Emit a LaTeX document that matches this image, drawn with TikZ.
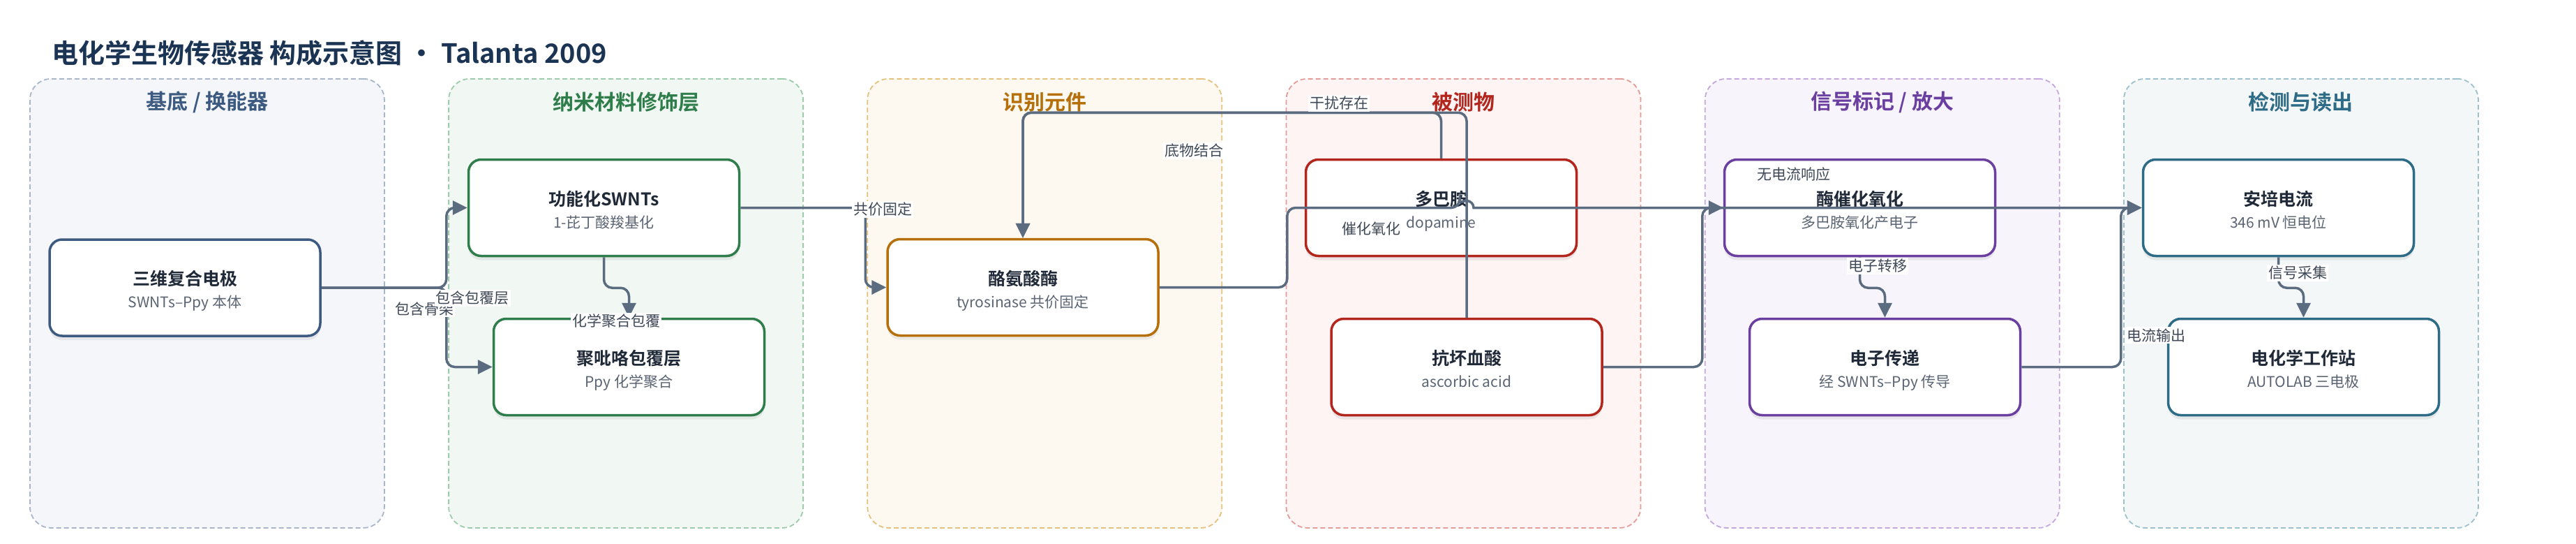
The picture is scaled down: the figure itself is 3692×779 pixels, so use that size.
\documentclass[tikz,border=0pt]{standalone}
\usepackage{fontspec}
\setmainfont{Noto Sans CJK SC}[BoldFont={Noto Sans CJK SC Bold}]
\usetikzlibrary{arrows.meta,shadows}
\definecolor{ink}{HTML}{1F2937}
\definecolor{subink}{HTML}{5B6472}
\definecolor{titleink}{HTML}{1B3453}
\definecolor{edgec}{HTML}{5B6B80}
\definecolor{lblink}{HTML}{3F4856}
\definecolor{fA}{HTML}{F4F6FA}\definecolor{bA}{HTML}{A9B6CA}\definecolor{tA}{HTML}{3D5A80}
\definecolor{fB}{HTML}{F1F8F3}\definecolor{bB}{HTML}{9ECBAB}\definecolor{tB}{HTML}{2E7D4A}
\definecolor{fC}{HTML}{FDF9F1}\definecolor{bC}{HTML}{E5C17E}\definecolor{tC}{HTML}{B5700C}
\definecolor{fD}{HTML}{FDF4F3}\definecolor{bD}{HTML}{E49C98}\definecolor{tD}{HTML}{B3261E}
\definecolor{fE}{HTML}{F7F4FB}\definecolor{bE}{HTML}{C4A8DD}\definecolor{tE}{HTML}{6B3FA0}
\definecolor{fF}{HTML}{F3F7F8}\definecolor{bF}{HTML}{9DC0CD}\definecolor{tF}{HTML}{2E6B86}
\tikzset{
  lane/.style={draw, dash pattern=on 7pt off 4pt, line width=1.8pt, rounded corners=30pt,
    minimum width=508pt, minimum height=643pt, inner sep=0pt, anchor=north west},
  lanetitle/.style={font=\fontsize{30}{36}\selectfont\bfseries, inner sep=0pt},
  nbox/.style={draw, fill=white, line width=3.5pt, rounded corners=18pt,
    minimum width=388pt, minimum height=138pt, inner sep=0pt,
    drop shadow={shadow xshift=0pt, shadow yshift=-6pt, opacity=0.13}},
  ntitle/.style={font=\fontsize{25}{30}\selectfont\bfseries, text=ink, anchor=base, inner sep=0pt},
  nsub/.style={font=\fontsize{21}{26}\selectfont, text=subink, anchor=base, inner sep=0pt},
  edge/.style={draw=edgec, line width=3.5pt, rounded corners=12pt, -{Triangle[length=21pt,width=20pt]}},
  elabel/.style={font=\fontsize{21}{26}\selectfont, text=lblink, fill=white, inner sep=2pt},
}
\newcommand\mklane[6]{%
  \node[lane, fill=#3, draw=#4] (#1) at (#2,112) {};
  \node[lanetitle, text=#5] (#1t) at ([yshift=-34pt]#1.north) {#6};
}
\newcommand\mknode[6]{%
  \node[nbox, draw=#4] (#1) at (#2,#3) {};
  \node[ntitle] (#1t) at ([yshift=3.5pt]#1.center) {#5};
  \node[nsub] (#1s) at ([yshift=-28.5pt]#1.center) {#6};
}
\begin{document}
\begin{tikzpicture}[x=1pt, y=-1pt]
\fill[white] (0,0) rectangle (3692,779);
\useasboundingbox (0,0) rectangle (3692,779);
\node[anchor=base west, inner sep=0pt, text=titleink, font=\fontsize{38}{45}\selectfont\bfseries] (title) at (74,90) {电化学生物传感器 构成示意图 · Talanta 2009};
% lanes
\mklane{L1}{42}{fA}{bA}{tA}{基底 / 换能器}
\mklane{L2}{642.2}{fB}{bB}{tB}{纳米材料修饰层}
\mklane{L3}{1242.4}{fC}{bC}{tC}{识别元件}
\mklane{L4}{1842.6}{fD}{bD}{tD}{被测物}
\mklane{L5}{2442.8}{fE}{bE}{tE}{信号标记 / 放大}
\mklane{L6}{3043}{fF}{bF}{tF}{检测与读出}
% nodes
\mknode{a}{265}{412}{tA}{三维复合电极}{SWNTs–Ppy 本体}
\mknode{b}{865.5}{297.5}{tB}{功能化SWNTs}{1-芘丁酸羧基化}
\mknode{c}{901.5}{525.5}{tB}{聚吡咯包覆层}{Ppy 化学聚合}
\mknode{d}{1466}{411.5}{tC}{酪氨酸酶}{tyrosinase 共价固定}
\mknode{e}{2065.5}{297.5}{tD}{多巴胺}{dopamine}
\mknode{f}{2102}{525.5}{tD}{抗坏血酸}{ascorbic acid}
\mknode{g}{2665.5}{297.5}{tE}{酶催化氧化}{多巴胺氧化产电子}
\mknode{i}{2701.5}{525.5}{tE}{电子传递}{经 SWNTs–Ppy 传导}
\mknode{h}{3265.5}{297.5}{tF}{安培电流}{346 mV 恒电位}
\mknode{j}{3301.5}{525.5}{tF}{电化学工作站}{AUTOLAB 三电极}
% edges
\draw[edge] (a.east) -| ([xshift=-30pt]b.west) -- (b.west);
\draw[edge] (a.east) -| ([xshift=-66pt]c.west) -- (c.west);
\draw[edge] (b.south) -- ++(0,44) -| (c.north);
\draw[edge] (b.east) -| ([xshift=-30pt]d.west) -- (d.west);
\draw[edge] (e.north) |- ([yshift=179.5pt]d.north) -- (d.north);
\draw[edge] (f.north) |- ([yshift=179.5pt]d.north) -- (d.north);
\coordinate (hopc) at (f.north |- g.west);
\draw[edge] (d.east) -- ++(183,0) |- ([xshift=-10pt]hopc) [sharp corners] arc[start angle=180, end angle=360, radius=10] -- (g.west);
\draw[edge] (f.east) -| ([xshift=-30pt]g.west) -- (h.west);
\draw[edge] (g.south) -- ++(0,44) -| (i.north);
\draw[edge] (i.east) -| ([xshift=-30pt]h.west) -- (h.west);
\draw[edge] (h.south) -- ++(0,44) -| (j.north);
% labels
\node[elabel] (l1) at (608,442) {包含骨架};
\node[elabel] (l2) at (677,427) {包含包覆层};
\node[elabel] (l3) at (883,460) {化学聚合包覆};
\node[elabel] (l4) at (1265,300) {共价固定};
\node[elabel] (l5) at (1711,216) {底物结合};
\node[elabel] (l6) at (1919,148) {干扰存在};
\node[elabel] (l7) at (1965,328) {催化氧化};
\node[elabel] (l8) at (2571,250) {无电流响应};
\node[elabel] (l9) at (2691,381) {电子转移};
\node[elabel] (l10) at (3090,480) {电流输出};
\node[elabel] (l11) at (3293,391) {信号采集};
\end{tikzpicture}
\end{document}
